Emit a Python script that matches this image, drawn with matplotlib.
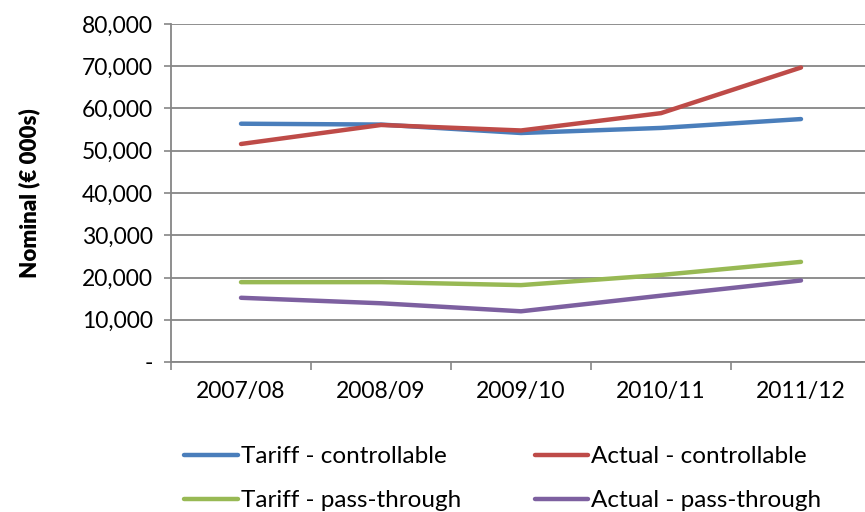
import matplotlib.pyplot as plt
from matplotlib.ticker import FuncFormatter

# tariff vs actual costs, nominal EUR thousands
years = ["2007/08", "2008/09", "2009/10", "2010/11", "2011/12"]
tariff_controllable = [56400, 56200, 54200, 55400, 57500]
actual_controllable = [51600, 56100, 54800, 58900, 69700]
tariff_passthrough = [18900, 18900, 18200, 20600, 23700]
actual_passthrough = [15200, 13900, 12000, 15700, 19300]

series = [
    ("Tariff - controllable", tariff_controllable, "#4A7EBB"),
    ("Actual - controllable", actual_controllable, "#BE4B48"),
    ("Tariff - pass-through", tariff_passthrough, "#98B954"),
    ("Actual - pass-through", actual_passthrough, "#7D60A0"),
]

plt.rcParams['font.family'] = ['Lato', 'DejaVu Sans']
grey = "#868686"
fs = 16.5

fig = plt.figure(figsize=(8.65, 5.12), dpi=100)
# axes runs past the right edge of the figure on purpose
ax = fig.add_axes([171 / 865, 150 / 512, 700 / 865, 338 / 512])

x = list(range(len(years)))
lines = {}
for label, vals, col in series:
    lines[label], = ax.plot(x, vals, color=col, lw=3.2, label=label,
                            solid_capstyle='round', solid_joinstyle='round')

ax.set_xlim(-0.5, len(years) - 0.5)
ax.set_ylim(0, 80000)
ax.set_yticks(range(0, 80001, 10000))
ax.yaxis.set_major_formatter(FuncFormatter(lambda v, p: "-" if v == 0 else "{:,.0f}".format(v)))
ax.set_xticks(x)
ax.set_xticklabels(years)
ax.set_xticks([i - 0.5 for i in range(len(years) + 1)], minor=True)
ax.tick_params(axis='x', which='major', length=0, pad=14, labelsize=fs)
ax.tick_params(axis='x', which='minor', length=6, width=1.2, color=grey, direction='out')
ax.tick_params(axis='y', length=5, width=1.2, color=grey, pad=8, labelsize=fs)

ax.grid(axis='y', color=grey, lw=1.3)
ax.set_axisbelow(True)
for s in ['top', 'right']:
    ax.spines[s].set_visible(False)
for s in ['left', 'bottom']:
    ax.spines[s].set_color(grey)
    ax.spines[s].set_linewidth(1.3)

ax.set_ylabel("Nominal (€ 000s)", fontsize=16, fontweight='heavy', labelpad=30)

# legend fills column-wise, so order tariff rows first
order = ["Tariff - controllable", "Tariff - pass-through",
         "Actual - controllable", "Actual - pass-through"]
fig.legend([lines[k] for k in order], order, loc='upper left',
           bbox_to_anchor=(172 / 865, 1 - 434 / 512), ncol=2,
           frameon=False, fontsize=17.5, handlelength=2.2, handletextpad=0.12,
           columnspacing=3.05, labelspacing=0.95, borderpad=0)

fig.savefig("out.png", dpi=100)
